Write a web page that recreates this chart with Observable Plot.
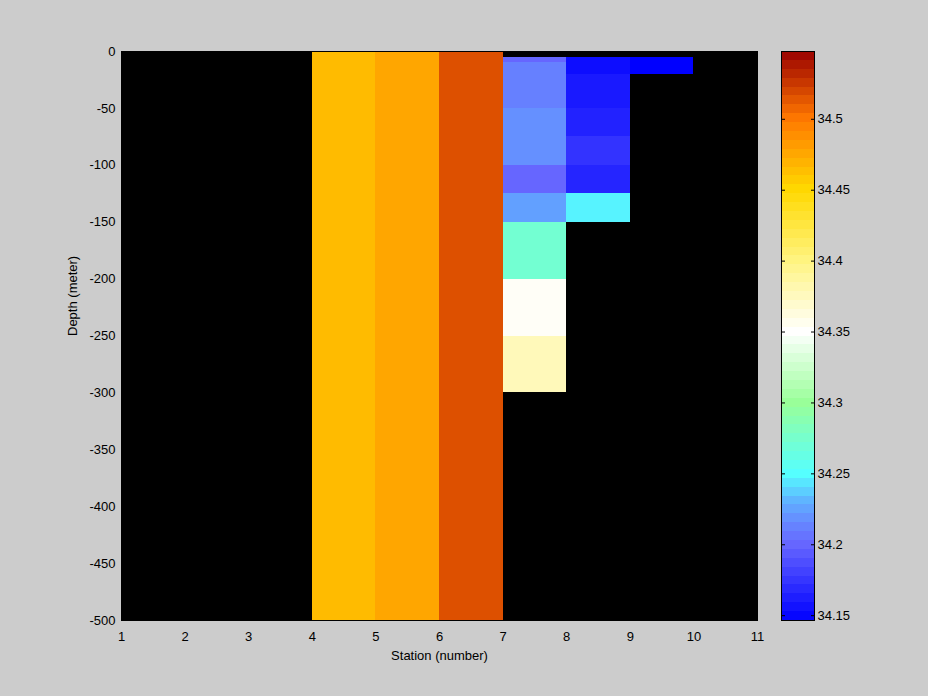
<!DOCTYPE html>
<html>
<head>
<meta charset="utf-8">
<script src="https://cdn.jsdelivr.net/npm/d3@7"></script>
<script src="https://cdn.jsdelivr.net/npm/@observablehq/plot@0.6"></script>
<style>
  html, body { margin: 0; padding: 0; background: #cccccc; }
  #wrap { position: relative; width: 928px; height: 696px; background: #cccccc; overflow: hidden; }
  #wrap svg { position: absolute; left: 0; top: 0; }
</style>
</head>
<body>
<div id="wrap"></div>
<script>
// ---- Data ----
// Each cell: station column start, station column end, top depth, bottom depth, salinity
const cellStationStart = [4, 5, 6,
  7, 7, 7, 7, 7, 7, 7, 7,
  8, 8, 8, 8, 8, 8,
  9];
const cellStationEnd = [5, 6, 7,
  8, 8, 8, 8, 8, 8, 8, 8,
  9, 9, 9, 9, 9, 9,
  10];
const cellDepthTop = [0, 0, 0,
  -5, -10, -50, -100, -125, -150, -200, -250,
  -5, -20, -50, -75, -100, -125,
  -5];
const cellDepthBottom = [-500, -500, -500,
  -10, -50, -100, -125, -150, -200, -250, -300,
  -20, -50, -75, -100, -125, -150,
  -20];
const cellSalinity = [34.465, 34.476, 34.516,
  34.200, 34.2115, 34.218, 34.200, 34.224, 34.272, 34.353, 34.377,
  34.1534, 34.1597, 34.1644, 34.1733, 34.166, 34.247,
  34.1466];

// colour axis (colormap stops)
const colorMin = 34.1466, colorMax = 34.5478;
const cmapValues = [34.1466, 34.20, 34.215, 34.23, 34.25, 34.30, 34.35, 34.40, 34.45, 34.50, 34.5478];
const cmapColors = ["#0000ff", "#6666ff", "#6688ff", "#60b0ff", "#55ffff", "#99ff99", "#ffffff", "#fff480", "#ffd800", "#ff7800", "#990000"];
const colorbarTicks = [34.15, 34.2, 34.25, 34.3, 34.35, 34.4, 34.45, 34.5];
const stationTicks = [1, 2, 3, 4, 5, 6, 7, 8, 9, 10, 11];
const depthTicks = [0, -50, -100, -150, -200, -250, -300, -350, -400, -450, -500];
const nLevels = 64;

const cells = cellSalinity.map((s, i) => ({
  x1: cellStationStart[i], x2: cellStationEnd[i],
  y1: cellDepthTop[i], y2: cellDepthBottom[i], s
}));

const colorScale = {
  type: "linear",
  domain: cmapValues,
  range: cmapColors,
  interpolate: "rgb",
  clamp: true
};

const font = {fontFamily: "'Liberation Sans', Arial, sans-serif", fontSize: "13px", background: "transparent", color: "black", overflow: "visible"};

const main = Plot.plot({
  width: 928, height: 696,
  marginLeft: 121, marginRight: 171, marginTop: 51, marginBottom: 76,
  style: font,
  x: {domain: [1, 11], ticks: stationTicks, tickSize: 0, tickPadding: 11, label: null, tickFormat: d => String(d)},
  y: {domain: [-500, 0], ticks: depthTicks, tickSize: 0, tickPadding: 6, label: null, tickFormat: d => String(d)},
  color: colorScale,
  marks: [
    Plot.frame({fill: "black"}),
    Plot.rect(cells, {x1: "x1", x2: "x2", y1: "y1", y2: "y2", fill: "s", shapeRendering: "crispEdges"}),
    Plot.frame({stroke: "black"}),
    Plot.text(["Station (number)"], {frameAnchor: "bottom", dy: 39, fontSize: 13, fill: "black"}),
    Plot.text(["Depth (meter)"], {frameAnchor: "left", dx: -49, rotate: -90, fontSize: 13, fill: "black"})
  ]
});

const step = (colorMax - colorMin) / nLevels;
const levels = d3.range(nLevels).map(i => ({
  y1: colorMin + i * step,
  y2: colorMin + (i + 1) * step,
  v: colorMin + (i + 0.5) * step
}));

const bar = Plot.plot({
  width: 928, height: 696,
  marginLeft: 781, marginRight: 114, marginTop: 51, marginBottom: 76,
  style: font,
  x: {axis: null},
  y: {domain: [colorMin, colorMax], label: null},
  color: colorScale,
  marks: [
    Plot.rect(levels, {y1: "y1", y2: "y2", fill: "v", shapeRendering: "crispEdges"}),
    Plot.axisY(colorbarTicks, {anchor: "right", tickSize: -4, tickPadding: 7, tickFormat: d => String(d), label: null}),
    Plot.axisY(colorbarTicks, {anchor: "left", tickSize: -4, tickFormat: () => "", label: null}),
    Plot.frame({stroke: "black"})
  ]
});

document.getElementById("wrap").append(main, bar);
</script>
</body>
</html>
